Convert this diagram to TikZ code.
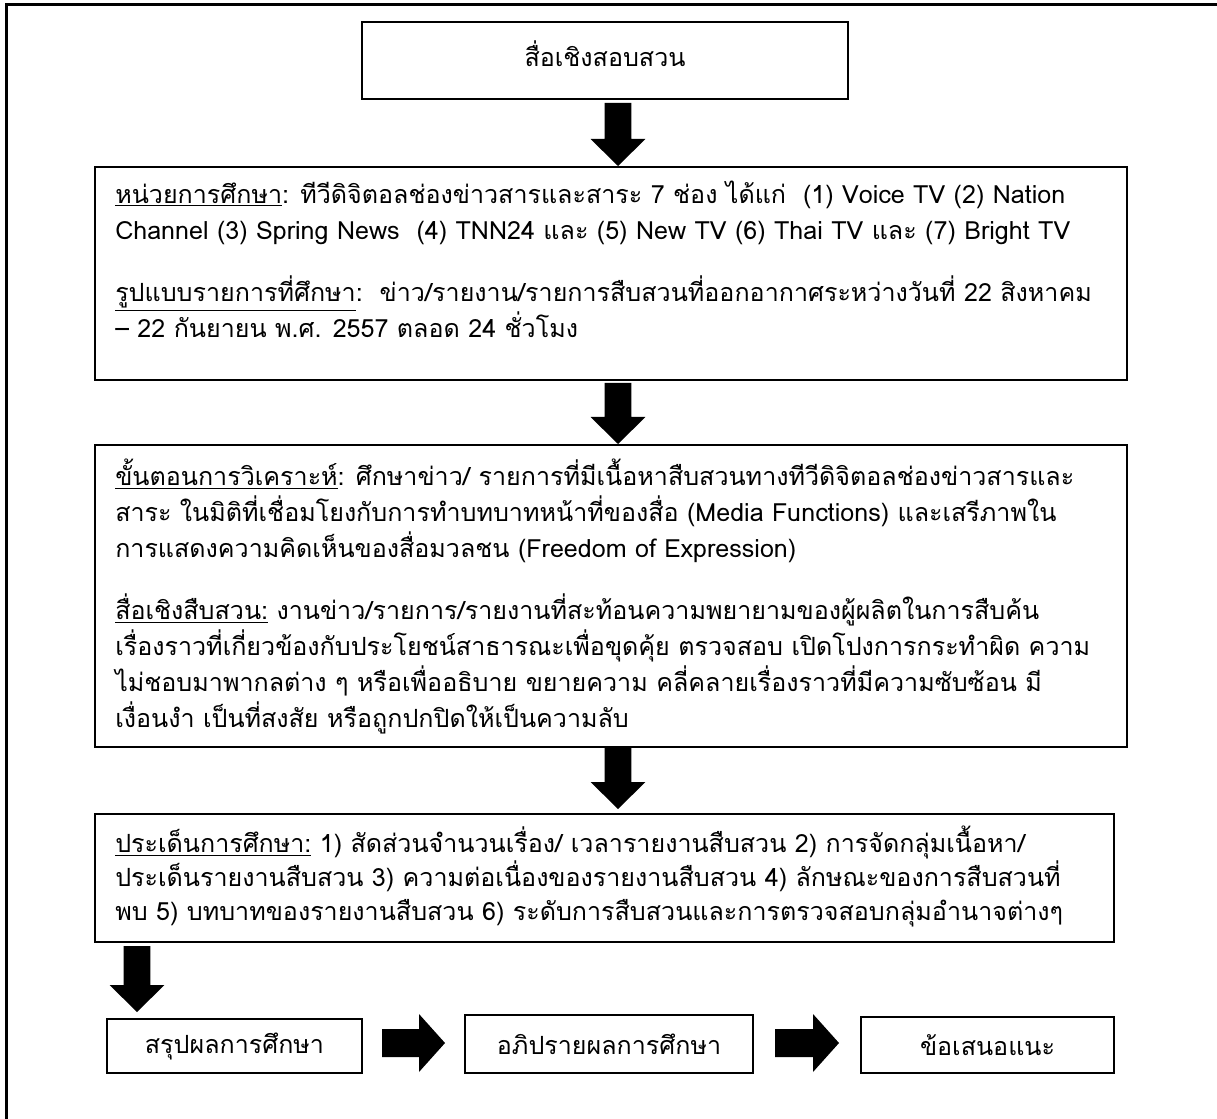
\documentclass[tikz,border=0pt]{standalone}
\usepackage{fontspec}
\setmainfont[Script=Thai]{Loma}
\usetikzlibrary{calc}
\newcommand\ulx[1]{\underline{#1}}
\newcommand\vblk[2]{\fill let \p1=#1, \p2=#2 in
  (\x1-10.1pt,\y1) -- (\x1+10.1pt,\y1) -- (\x1+10.1pt,\y2+20.25pt) --
  (\x1+20.6pt,\y2+20.25pt) -- (\x1,\y2) -- (\x1-20.6pt,\y2+20.25pt) --
  (\x1-10.1pt,\y2+20.25pt) -- cycle;}
\newcommand\hblk[2]{\fill let \p1=#1, \p2=#2 in
  (\x1,\y1+10.5pt) -- (\x2-19.5pt,\y1+10.5pt) -- (\x2-19.5pt,\y1+21.75pt) --
  (\x2,\y1) -- (\x2-19.5pt,\y1-21.75pt) -- (\x2-19.5pt,\y1-10.5pt) --
  (\x1,\y1-10.5pt) -- cycle;}
\begin{document}
\begin{tikzpicture}[x=0.75pt,y=-0.75pt,
  box/.style={draw=black, line width=1.5pt, rectangle, inner sep=0pt},
  para/.style={anchor=north west, align=left, inner sep=0pt,
    font=\fontsize{18.8}{27}\selectfont},
  label/.style={font=\fontsize{18.8}{27}\selectfont}]
\useasboundingbox (0,0) rectangle (1217,1119);
\fill[white] (0,0) rectangle (1217,1119);
\draw[line width=2.25pt] (6,1119) -- (6,5) -- (1217,5);
% boxes
\node[box, minimum width=486*0.75pt, minimum height=77*0.75pt] (b1) at (605,60.5) {};
\node[label] (t1) at ($(b1.center)+(0,-7)$) {สื่อเชิงสอบสวน};
\node[box, minimum width=1032*0.75pt, minimum height=213*0.75pt] (b2) at (611,273.5) {};
\node[box, minimum width=1032*0.75pt, minimum height=302*0.75pt] (b3) at (611,596) {};
\node[box, minimum width=1019*0.75pt, minimum height=128*0.75pt] (b4) at (604.5,878) {};
\node[box, label, minimum width=255*0.75pt, minimum height=54*0.75pt] (b5) at (234.5,1046) {สรุปผลการศึกษา};
\node[box, label, minimum width=288*0.75pt, minimum height=58*0.75pt] (b6) at (609,1044) {อภิปรายผลการศึกษา};
\node[box, label, minimum width=253*0.75pt, minimum height=56*0.75pt] (b7) at (987.5,1045) {ข้อเสนอแนะ};
% texts
\node[para] (t2) at (115,181) {\ulx{หน่วยการศึกษา}: ทีวีดิจิตอลช่องข่าวสารและสาระ 7 ช่อง ได้แก่\ \ (1) Voice TV (2) Nation\\
Channel (3) Spring News\ \ (4) TNN24 และ (5) New TV (6) Thai TV และ (7) Bright TV\\[19.5pt]
\ulx{รูปแบบรายการที่ศึกษา}:\ \ ข่าว/รายงาน/รายการสืบสวนที่ออกอากาศระหว่างวันที่ 22 สิงหาคม\\
– 22 กันยายน พ.ศ. 2557 ตลอด 24 ชั่วโมง};
\node[para] (t3) at (115,459) {\ulx{ขั้นตอนการวิเคราะห์}: ศึกษาข่าว/ รายการที่มีเนื้อหาสืบสวนทางทีวีดิจิตอลช่องข่าวสารและ\\
สาระ ในมิติที่เชื่อมโยงกับการทำบทบาทหน้าที่ของสื่อ (Media Functions) และเสรีภาพใน\\
การแสดงความคิดเห็นของสื่อมวลชน (Freedom of Expression)\\[19.5pt]
\ulx{สื่อเชิงสืบสวน:} งานข่าว/รายการ/รายงานที่สะท้อนความพยายามของผู้ผลิตในการสืบค้น\\
เรื่องราวที่เกี่ยวข้องกับประโยชน์สาธารณะเพื่อขุดคุ้ย ตรวจสอบ เปิดโปงการกระทำผิด ความ\\
ไม่ชอบมาพากลต่าง ๆ หรือเพื่ออธิบาย ขยายความ คลี่คลายเรื่องราวที่มีความซับซ้อน มี\\
เงื่อนงำ เป็นที่สงสัย หรือถูกปกปิดให้เป็นความลับ};
\node[para, font=\fontsize{18.8}{25.5}\selectfont] (t4) at (115,826) {\ulx{ประเด็นการศึกษา:} 1) สัดส่วนจำนวนเรื่อง/ เวลารายงานสืบสวน 2) การจัดกลุ่มเนื้อหา/\\
ประเด็นรายงานสืบสวน 3) ความต่อเนื่องของรายงานสืบสวน 4) ลักษณะของการสืบสวนที่\\
พบ 5) บทบาทของรายงานสืบสวน 6) ระดับการสืบสวนและการตรวจสอบกลุ่มอำนาจต่างๆ};
% arrows
\coordinate (ax) at (618,0);
\coordinate (bx) at (137,0);
\vblk{($(b1.south -| ax)+(0,3)$)}{(b2.north -| ax)}
\vblk{($(b2.south -| ax)+(0,2)$)}{(b3.north -| ax)}
\vblk{(b3.south -| ax)}{($(b4.north -| ax)+(0,-4)$)}
\vblk{($(b4.south -| bx)+(0,3)$)}{($(b5.north -| bx)+(0,-6)$)}
\hblk{($(b5.east)+(19,-3)$)}{($(b6.west)+(-19,-1)$)}
\hblk{($(b6.east)+(21,-1)$)}{($(b7.west)+(-21,-2)$)}
\end{tikzpicture}
\end{document}
